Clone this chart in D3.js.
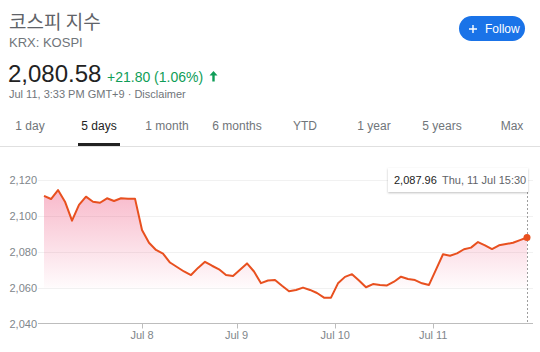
<!DOCTYPE html>
<html>
<head>
<meta charset="utf-8">
<script src="https://cdn.jsdelivr.net/npm/d3@7"></script>
<style>
body{margin:0;background:#fff}
svg{display:block;font-family:"Liberation Sans",Arial,"Noto Sans CJK KR",sans-serif}
</style>
</head>
<body>
<div id="chart"></div>
<script>
// KOSPI 5 day intraday, 30 minute points per trading day
var jul5  = [2111.2, 2109.4, 2114.4, 2107.9, 2097.3, 2106.1, 2110.7, 2107.9, 2107.3, 2109.8, 2108.3, 2109.8, 2109.6, 2109.6];
var jul8  = [2092.1, 2085.0, 2081.0, 2079.0, 2074.0, 2071.5, 2069.0, 2067.0, 2071.0, 2074.4, 2072.2, 2070.2, 2067.0, 2066.5];
var jul9  = [2070.0, 2073.5, 2069.0, 2062.5, 2064.0, 2064.2, 2061.0, 2058.0, 2058.7, 2060.0, 2058.7, 2057.0, 2054.4, 2054.4];
var jul10 = [2062.4, 2066.0, 2067.5, 2064.0, 2060.2, 2062.0, 2061.5, 2061.2, 2063.3, 2066.1, 2064.8, 2064.2, 2062.4, 2061.5];
var jul11 = [2070.0, 2078.6, 2077.8, 2079.1, 2081.4, 2082.3, 2085.4, 2083.6, 2081.5, 2083.6, 2084.3, 2085.0, 2086.5, 2087.96];

var tickLabels = ["Jul 8", "Jul 9", "Jul 10", "Jul 11"];
var tickIndex = [14, 27.5, 41.6, 55.6]; // where each day starts, in point index
var yTicks = [2040, 2060, 2080, 2100, 2120];
var tabs = ["1 day", "5 days", "1 month", "6 months", "YTD", "1 year", "5 years", "Max"];
var tabX = [30, 99, 167, 237, 305, 374, 442, 512];

function init(){
    var w = 540, h = 352;
    var lineColor = "#e8501f";
    var data = [].concat(jul5, jul8, jul9, jul10, jul11);

    var svg = d3.select("#chart").append("svg")
                .attr("width", w)
                .attr("height", h);

    // header
    svg.append("text").attr("x", 9).attr("y", 29)
        .attr("font-family", "'Noto Sans CJK KR',sans-serif")
        .attr("font-size", 19).attr("fill", "#5f6368")
        .text("코스피 지수");
    svg.append("text").attr("x", 9).attr("y", 47)
        .attr("font-size", 13).attr("fill", "#70757a")
        .text("KRX: KOSPI");
    svg.append("text").attr("x", 8).attr("y", 82)
        .attr("font-size", 24).attr("fill", "#222")
        .text("2,080.58");
    svg.append("text").attr("x", 107).attr("y", 82)
        .attr("font-size", 14).attr("fill", "#0f9d58")
        .text("+21.80 (1.06%)");
    // up arrow
    svg.append("path")
        .attr("d", "M213.5,71l-4,4.5h2.8v6h2.4v-6h2.8z")
        .attr("fill", "#0f9d58");
    svg.append("text").attr("x", 9).attr("y", 98)
        .attr("font-size", 11).attr("fill", "#70757a")
        .text("Jul 11, 3:33 PM GMT+9 · Disclaimer");

    // follow button
    var btn = svg.append("g");
    btn.append("rect").attr("x", 459).attr("y", 16).attr("width", 66).attr("height", 25)
        .attr("rx", 12.5).attr("fill", "#1a73e8");
    btn.append("path").attr("d", "M469,29h8M473,25v8")
        .attr("stroke", "#fff").attr("stroke-width", 1.4);
    btn.append("text").attr("x", 485).attr("y", 33)
        .attr("font-size", 12).attr("fill", "#fff").text("Follow");

    // range tabs
    svg.selectAll("text.tab").data(tabs).enter().append("text")
        .attr("class", "tab")
        .attr("x", function(d, i){ return tabX[i]; })
        .attr("y", 130)
        .attr("text-anchor", "middle")
        .attr("font-size", 12)
        .attr("fill", function(d){ return d == "5 days" ? "#222" : "#70757a"; })
        .text(function(d){ return d; });
    svg.append("line").attr("x1", 0).attr("x2", w).attr("y1", 146.5).attr("y2", 146.5)
        .attr("stroke", "#e0e0e0");
    svg.append("rect").attr("x", 78).attr("y", 143).attr("width", 42).attr("height", 3)
        .attr("fill", "#222");

    // chart
    var x = d3.scaleLinear().domain([0, data.length - 1]).range([44, 527]);
    var y = d3.scaleLinear().domain([2040, 2120]).range([323.5, 180]);

    svg.selectAll("line.grid").data(yTicks.slice(1)).enter().append("line")
        .attr("class", "grid")
        .attr("x1", 38).attr("x2", 533)
        .attr("y1", function(d){ return Math.round(y(d)) + 0.5; })
        .attr("y2", function(d){ return Math.round(y(d)) + 0.5; })
        .attr("stroke", "#f1f1f1");

    var grad = svg.append("defs").append("linearGradient")
        .attr("id", "fade").attr("gradientUnits", "userSpaceOnUse")
        .attr("x1", 0).attr("x2", 0).attr("y1", y(2120)).attr("y2", y(2060));
    grad.append("stop").attr("offset", 0).attr("stop-color", "#ec3d6e").attr("stop-opacity", 0.4);
    grad.append("stop").attr("offset", 1).attr("stop-color", "#ec3d6e").attr("stop-opacity", 0.02);

    var area = d3.area()
        .x(function(d, i){ return x(i); })
        .y0(y(2060))
        .y1(function(d){ return Math.min(y(d), y(2060)); });
    svg.append("path").datum(data)
        .attr("d", area).attr("fill", "url(#fade)");

    // axis
    svg.append("line").attr("x1", 38).attr("x2", 533)
        .attr("y1", y(2040)).attr("y2", y(2040))
        .attr("stroke", "#bdbdbd");
    svg.selectAll("text.ylab").data(yTicks).enter().append("text")
        .attr("class", "ylab")
        .attr("x", 37).attr("y", function(d){ return y(d) + 4; })
        .attr("text-anchor", "end")
        .attr("font-size", 11).attr("fill", "#80868b")
        .text(d3.format(","));
    svg.selectAll("line.xtick").data(tickIndex).enter().append("line")
        .attr("class", "xtick")
        .attr("x1", function(d){ return Math.round(x(d)) + 0.5; })
        .attr("x2", function(d){ return Math.round(x(d)) + 0.5; })
        .attr("y1", y(2040)).attr("y2", y(2040) + 5)
        .attr("stroke", "#bdbdbd");
    svg.selectAll("text.xlab").data(tickLabels).enter().append("text")
        .attr("class", "xlab")
        .attr("x", function(d, i){ return x(tickIndex[i]); })
        .attr("y", 339)
        .attr("text-anchor", "middle")
        .attr("font-size", 11).attr("fill", "#80868b")
        .text(function(d){ return d; });

    var line = d3.line()
        .x(function(d, i){ return x(i); })
        .y(function(d){ return y(d); });
    svg.append("path").datum(data)
        .attr("d", line)
        .attr("fill", "none")
        .attr("stroke", lineColor)
        .attr("stroke-width", 2)
        .attr("stroke-linejoin", "round");

    // hover marker on the last point
    var last = data.length - 1;
    svg.append("line")
        .attr("x1", x(last) + 0.5).attr("x2", x(last) + 0.5)
        .attr("y1", 192).attr("y2", y(2040))
        .attr("stroke", "#9e9e9e").attr("stroke-dasharray", "2,2");
    svg.append("circle").attr("cx", x(last)).attr("cy", y(data[last]))
        .attr("r", 3.5).attr("fill", lineColor);

    var f = svg.select("defs").append("filter").attr("id", "sh")
        .attr("x", "-10%").attr("y", "-30%").attr("width", "120%").attr("height", "160%");
    f.append("feDropShadow").attr("dx", 0).attr("dy", 1).attr("stdDeviation", 1.2)
        .attr("flood-color", "#000").attr("flood-opacity", 0.25);
    svg.append("rect").attr("x", 388).attr("y", 168).attr("width", 140).attr("height", 24)
        .attr("fill", "#fff").attr("filter", "url(#sh)");
    svg.append("text").attr("x", 394).attr("y", 184)
        .attr("font-size", 11).attr("fill", "#222")
        .text(d3.format(",.2f")(data[last]));
    svg.append("text").attr("x", 442).attr("y", 184)
        .attr("font-size", 11).attr("fill", "#5f6368")
        .text("Thu, 11 Jul 15:30");
}
window.onload = init;
</script>
</body>
</html>
